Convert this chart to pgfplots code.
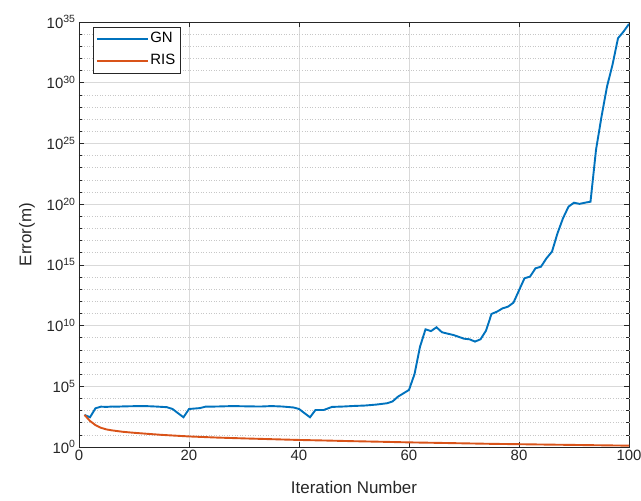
\documentclass[border=0pt]{standalone}
\usepackage{fontspec}
\setmainfont{Liberation Sans}
\usepackage{pgfplots}
\pgfplotsset{compat=1.18}
\definecolor{mblue}{rgb}{0,0.447,0.741}
\definecolor{morange}{rgb}{0.85,0.325,0.098}
\definecolor{maxis}{rgb}{0.15,0.15,0.15}
\begin{document}
\begin{tikzpicture}
\useasboundingbox (-79bp,-54bp) rectangle (562bp,447bp);
\begin{axis}[
  at={(0,0)}, anchor=south west,
  scale only axis, width=550bp, height=425bp,
  xmin=0, xmax=100, ymin=1, ymax=1e35,
  ymode=log, log basis y=10,
  xtick={0,20,...,100},
  ytick={1,1e5,1e10,1e15,1e20,1e25,1e30,1e35},
  minor ytick={},
  extra y ticks={1e1,1e2,1e3,1e4,1e6,1e7,1e8,1e9,1e11,1e12,1e13,1e14,1e16,1e17,1e18,1e19,1e21,1e22,1e23,1e24,1e26,1e27,1e28,1e29,1e31,1e32,1e33,1e34},
  extra y tick labels={},
  extra y tick style={major grid style={dotted, black!22, line width=0.6bp}, major tick length=3.5bp},
  yticklabel={10\textsuperscript{\pgfmathparse{int(round(\tick))}\pgfmathresult}},
  /pgf/number format/assume math mode=true,
  xmajorgrids, ymajorgrids,
  major grid style={solid, black!15, line width=0.6bp},
  axis line style={maxis, line width=0.6bp},
  tick style={maxis, line width=0.6bp},
  tick align=inside,
  major tick length=5bp,
  ticklabel style={font=\fontsize{15}{18}\selectfont, text=maxis},
  xlabel={Iteration Number}, ylabel={Error(m)},
  label style={font=\fontsize{17}{20}\selectfont, text=maxis},
  xlabel style={yshift=-13bp},
  ylabel style={yshift=5bp},
  legend style={at={(0.025,0.989)}, anchor=north west, draw=maxis,
    font=\fontsize{15}{18}\selectfont, text=black,
    nodes={inner sep=1.5bp, text height=11bp, text depth=3.5bp},
    row sep=5bp, inner xsep=3bp, inner ysep=3bp},
  legend cell align=left,
  legend image code/.code={\draw[#1] (0bp,0bp) -- (51bp,0bp);},
]
\addplot[mblue, line width=1.9bp] coordinates {
(1,4.4e2) (2,2.8e2) (3,1.55e3) (4,2.1e3) (5,2.0e3) (6,2.15e3) (7,2.1e3) (8,2.2e3)
(10,2.3e3) (12,2.35e3) (14,2.15e3) (16,1.9e3) (17,1.35e3) (19,2.8e2) (20,1.35e3)
(22,1.6e3) (23,2.1e3) (25,2.15e3) (28,2.35e3) (30,2.25e3) (33,2.15e3) (35,2.35e3)
(37,2.15e3) (39,1.8e3) (40,1.35e3) (42,2.8e2) (43,1.12e3) (44.5,1.12e3) (46,2.0e3)
(48,2.15e3) (50,2.4e3) (52,2.6e3) (54,3.1e3) (56,4.0e3) (57,5.6e3) (58,1.4e4)
(60,5.0e4) (61,1e6) (62,1.8e8) (63,4.9e9) (64,3.5e9) (65,7.2e9) (66,2.8e9)
(68,1.7e9) (69,1.2e9) (70,8.3e8) (71,7.4e8) (72,4.8e8) (73,7.4e8) (74,3.8e9)
(75,9.1e10) (76,1.4e11) (77,2.6e11) (78,3.6e11) (79,7.8e11) (80,7.9e12) (81,7.9e13)
(82,1.07e14) (83,5.2e14) (84,7.1e14) (85,3.5e15) (86,1.23e16) (87,4e17) (88,6.9e18)
(89,6.2e19) (90,1.32e20) (91,1.05e20) (92,1.32e20) (93,1.58e20) (94,2.9e24)
(95,1.6e27) (96,4.8e29) (97,3.0e31) (98,4.6e33) (99,1.6e34) (100,6.9e34)
};
\addlegendentry{GN}
\addplot[morange, line width=1.9bp] coordinates {
(1,4.4e2) (2,1.4e2) (3,63) (4,38) (5,28) (6,23.4) (8,17.8) (10,14.8) (12,12.6)
(15,10) (20,7.4) (25,6.0) (30,5.1) (35,4.4) (40,3.8) (45,3.4) (50,3.0) (55,2.7)
(60,2.4) (65,2.2) (70,2.0) (75,1.82) (80,1.70) (85,1.58) (90,1.48) (95,1.38) (100,1.29)
};
\addlegendentry{RIS}
\end{axis}
\end{tikzpicture}
\end{document}
